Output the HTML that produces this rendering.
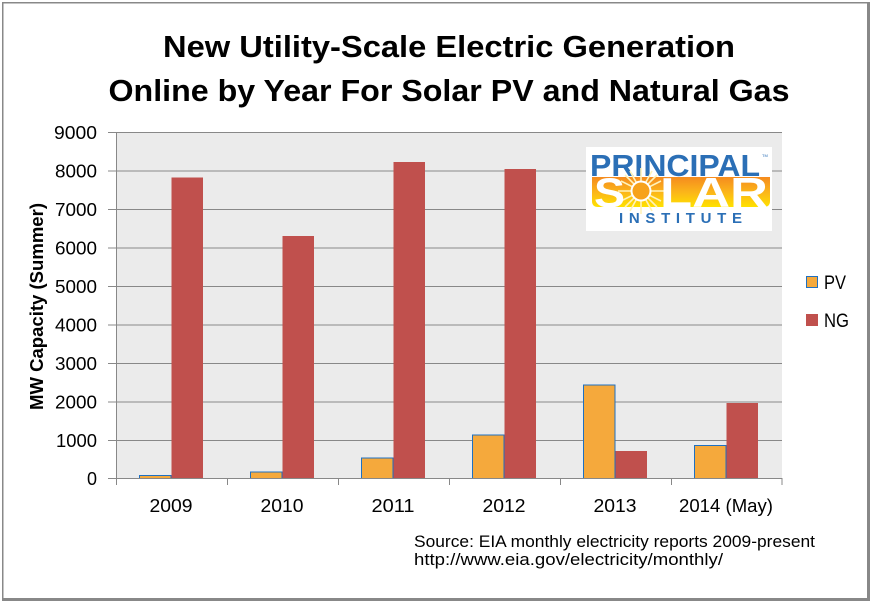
<!DOCTYPE html>
<html><head><meta charset="utf-8"><style>
html,body{margin:0;padding:0;background:#fff;}
svg{display:block;}
text{font-family:"Liberation Sans",sans-serif;}
</style></head><body>
<svg width="873" height="602" viewBox="0 0 873 602" xmlns="http://www.w3.org/2000/svg">
<defs>
<linearGradient id="sg" x1="0" y1="0" x2="0" y2="1">
<stop offset="0" stop-color="#f58b1f"/>
<stop offset="0.5" stop-color="#fbb51a"/>
<stop offset="1" stop-color="#ffe200"/>
</linearGradient>
</defs>
<rect x="0" y="0" width="873" height="602" fill="#fff"/>
<!-- outer border -->
<rect x="2" y="2" width="867" height="1.5" fill="#888"/>
<rect x="2" y="2" width="1.5" height="598" fill="#888"/>
<rect x="867" y="2" width="3" height="599" fill="#888"/>
<rect x="2" y="598" width="868" height="3" fill="#888"/>

<!-- title -->
<text x="449" y="57" text-anchor="middle" font-size="31" font-weight="bold" fill="#000" textLength="572" lengthAdjust="spacingAndGlyphs">New Utility-Scale Electric Generation</text>
<text x="449" y="101" text-anchor="middle" font-size="31" font-weight="bold" fill="#000" textLength="681" lengthAdjust="spacingAndGlyphs">Online by Year For Solar PV and Natural Gas</text>

<!-- plot area -->
<rect x="116" y="132" width="666" height="346.3" fill="#ebebeb"/>
<g stroke="#888" stroke-width="1">
<line x1="108" y1="132.5" x2="782" y2="132.5"/>
<line x1="108" y1="171" x2="782" y2="171"/>
<line x1="108" y1="209.5" x2="782" y2="209.5"/>
<line x1="108" y1="248" x2="782" y2="248"/>
<line x1="108" y1="286.5" x2="782" y2="286.5"/>
<line x1="108" y1="325" x2="782" y2="325"/>
<line x1="108" y1="363.5" x2="782" y2="363.5"/>
<line x1="108" y1="402" x2="782" y2="402"/>
<line x1="108" y1="440.5" x2="782" y2="440.5"/>
</g>

<!-- bars -->
<g stroke="#1f70c1" stroke-width="1" fill="#f5a93c">
<rect x="139.5" y="475.5" width="31.5" height="3"/>
<rect x="250.5" y="472" width="31.5" height="6.5"/>
<rect x="361.5" y="458" width="31.5" height="20.5"/>
<rect x="472.5" y="435" width="31.5" height="43.5"/>
<rect x="583.5" y="385" width="31.5" height="93.5"/>
<rect x="694.5" y="445.5" width="31.5" height="33"/>
</g>
<g fill="#c0504d">
<rect x="171.5" y="177.5" width="31.5" height="301"/>
<rect x="282.5" y="236" width="31.5" height="242.5"/>
<rect x="393.5" y="162" width="31.5" height="316.5"/>
<rect x="504.5" y="169" width="31.5" height="309.5"/>
<rect x="615.5" y="451" width="31.5" height="27.5"/>
<rect x="726.5" y="403" width="31.5" height="75.5"/>
</g>

<!-- axes -->
<g stroke="#888" stroke-width="1">
<line x1="116.5" y1="132" x2="116.5" y2="478.5"/>
<line x1="108" y1="478.5" x2="782" y2="478.5"/>
<line x1="116.5" y1="478" x2="116.5" y2="485"/>
<line x1="227.5" y1="478" x2="227.5" y2="485"/>
<line x1="338.5" y1="478" x2="338.5" y2="485"/>
<line x1="449.5" y1="478" x2="449.5" y2="485"/>
<line x1="560.5" y1="478" x2="560.5" y2="485"/>
<line x1="671.5" y1="478" x2="671.5" y2="485"/>
<line x1="782" y1="478" x2="782" y2="485"/>
</g>

<!-- y tick labels -->
<g font-size="18" fill="#000" text-anchor="end">
<text x="97" y="139" textLength="43" lengthAdjust="spacingAndGlyphs">9000</text>
<text x="97" y="177.5" textLength="42" lengthAdjust="spacingAndGlyphs">8000</text>
<text x="97" y="216" textLength="42" lengthAdjust="spacingAndGlyphs">7000</text>
<text x="97" y="254.5" textLength="42" lengthAdjust="spacingAndGlyphs">6000</text>
<text x="97" y="293" textLength="42" lengthAdjust="spacingAndGlyphs">5000</text>
<text x="97" y="331.5" textLength="42" lengthAdjust="spacingAndGlyphs">4000</text>
<text x="97" y="370" textLength="42" lengthAdjust="spacingAndGlyphs">3000</text>
<text x="97" y="408.5" textLength="42" lengthAdjust="spacingAndGlyphs">2000</text>
<text x="97" y="447" textLength="41" lengthAdjust="spacingAndGlyphs">1000</text>
<text x="97" y="485">0</text>
</g>

<!-- x labels -->
<g font-size="18" fill="#000" text-anchor="middle">
<text x="171" y="512" textLength="43" lengthAdjust="spacingAndGlyphs">2009</text>
<text x="282" y="512" textLength="43" lengthAdjust="spacingAndGlyphs">2010</text>
<text x="393" y="512" textLength="43" lengthAdjust="spacingAndGlyphs">2011</text>
<text x="504" y="512" textLength="43" lengthAdjust="spacingAndGlyphs">2012</text>
<text x="615" y="512" textLength="43" lengthAdjust="spacingAndGlyphs">2013</text>
<text x="726" y="512" textLength="94" lengthAdjust="spacingAndGlyphs">2014 (May)</text>
</g>

<!-- y axis title -->
<text transform="translate(43,306.5) rotate(-90)" text-anchor="middle" font-size="18" font-weight="bold" fill="#000" textLength="207" lengthAdjust="spacingAndGlyphs">MW Capacity (Summer)</text>

<!-- legend -->
<rect x="806.5" y="276.5" width="11" height="11" fill="#f5a93c" stroke="#1f70c1" stroke-width="1"/>
<text x="824" y="289" font-size="19" fill="#000" textLength="22" lengthAdjust="spacingAndGlyphs">PV</text>
<rect x="806" y="314" width="12" height="12" fill="#c0504d"/>
<text x="824" y="327" font-size="19" fill="#000" textLength="25" lengthAdjust="spacingAndGlyphs">NG</text>

<!-- logo -->
<rect x="586" y="147" width="186" height="84" fill="#fff"/>
<text x="590" y="176" font-size="31" font-weight="bold" fill="#2b6fb6" textLength="170" lengthAdjust="spacingAndGlyphs">PRINCIPAL</text>
<text x="762" y="157" font-size="4" fill="#2b6fb6">TM</text>
<path d="M592 177 H770 V201 Q770 207 764 207 H598 Q592 207 592 201 Z" fill="url(#sg)"/>
<g stroke="#fff2b8" stroke-width="1.6">
<line x1="641" y1="168" x2="641" y2="214"/>
<line x1="618" y1="191" x2="664" y2="191"/>
<line x1="625" y1="175" x2="657" y2="207"/>
<line x1="625" y1="207" x2="657" y2="175"/>
<line x1="630" y1="171" x2="652" y2="211"/>
<line x1="630" y1="211" x2="652" y2="171"/>
<line x1="621" y1="181" x2="661" y2="201"/>
<line x1="621" y1="201" x2="661" y2="181"/>
</g>
<circle cx="641" cy="191" r="10.5" fill="#fff"/>
<circle cx="641" cy="191" r="8.5" fill="#f7a21b"/>
<text x="594" y="207" font-size="42" font-weight="bold" fill="#fff" textLength="31" lengthAdjust="spacingAndGlyphs">S</text>
<text x="660" y="207" font-size="42" font-weight="bold" fill="#fff" textLength="108" lengthAdjust="spacingAndGlyphs">LAR</text>
<text x="619" y="223" font-size="15" font-weight="bold" fill="#2b6fb6" textLength="123" lengthAdjust="spacing">INSTITUTE</text>

<!-- source -->
<text x="414" y="547" font-size="17" fill="#000" textLength="401" lengthAdjust="spacingAndGlyphs">Source: EIA monthly electricity reports 2009-present</text>
<text x="414" y="565" font-size="17" fill="#000" textLength="309" lengthAdjust="spacingAndGlyphs">http://www.eia.gov/electricity/monthly/</text>
</svg>
</body></html>
